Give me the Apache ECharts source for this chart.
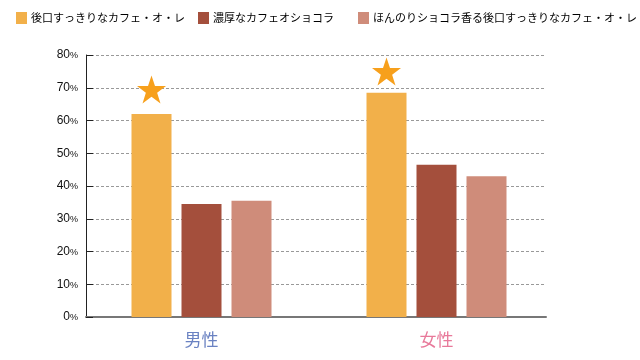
<!DOCTYPE html>
<html><head><meta charset="utf-8">
<script src="https://cdn.jsdelivr.net/npm/echarts@6/dist/echarts.min.js"></script>
<style>html,body{margin:0;padding:0;background:#fff}#c{width:640px;height:360px}</style>
</head><body><div id="c"></div>
<script>
var categories = ['男性', '女性'];
var seriesNames = ['後口すっきりなカフェ・オ・レ', '濃厚なカフェオショコラ', 'ほんのりショコラ香る後口すっきりなカフェ・オ・レ'];
var cafeAuLait = [62, 68.5];
var chocolat = [34.5, 46.5];
var chocoAuLait = [35.5, 43];
var starValues = [69.5, 75];
var yTicks = [0, 10, 20, 30, 40, 50, 60, 70, 80];

var colors = ['#F2B04A', '#A44F3C', '#CF8C7A'];
var catColors = ['#6A82C2', '#E8799A'];
var starPath = 'path://M50,0 L61.8,35.1 L98.9,35.1 L69,57 L80.3,92 L50,70.4 L19.7,92 L31,57 L1.1,35.1 L38.2,35.1 Z';
var cjk = '"Noto Sans CJK JP", sans-serif';

function legendAt(i, left) {
  return {
    data: [seriesNames[i]], left: left, top: 12, padding: 0,
    icon: 'rect', itemWidth: 11, itemHeight: 12, itemGap: 0,
    textStyle: { fontFamily: cjk, fontSize: 11, color: '#000', padding: [0, 0, 0, -1] }
  };
}

var chart = echarts.init(document.getElementById('c'));
chart.setOption({
  animation: false,
  color: colors,
  legend: [legendAt(0, 16), legendAt(1, 198), legendAt(2, 358)],
  grid: [
    { left: 84, right: 86, top: 55, bottom: 43 },
    { left: 86, right: 94, top: 55, bottom: 43 }
  ],
  xAxis: [
    {
      type: 'category', data: categories, gridIndex: 0,
      axisLine: { show: false }, axisTick: { show: false },
      axisLabel: {
        margin: 14, fontFamily: cjk, fontSize: 17,
        formatter: function (v, i) { return '{c' + i + '|' + v + '}'; },
        rich: { c0: { color: catColors[0], fontFamily: cjk, fontSize: 17 }, c1: { color: catColors[1], fontFamily: cjk, fontSize: 17 } }
      }
    },
    {
      type: 'category', data: [''], gridIndex: 1,
      axisLine: { show: true, lineStyle: { color: '#777', width: 2 } },
      axisTick: { show: false }, axisLabel: { show: false }
    }
  ],
  yAxis: [
    { type: 'value', gridIndex: 0, min: 0, max: 80, show: false },
    {
      type: 'value', gridIndex: 1, min: 0, max: 80, interval: 10,
      axisLine: { show: true, lineStyle: { color: '#222', width: 1 } },
      axisTick: { show: true, inside: true, length: 7, lineStyle: { color: '#222' } },
      splitLine: { show: true, lineStyle: { color: '#999', type: [3, 2], width: 1 } },
      axisLabel: {
        margin: 8, color: '#111',
        formatter: function (v) { return '{n|' + v + '}{p|%}'; },
        rich: {
          n: { fontFamily: 'Liberation Sans, Arial, sans-serif', fontSize: 12, color: '#111' },
          p: { fontFamily: 'Liberation Sans, Arial, sans-serif', fontSize: 9, color: '#111', padding: [2, 0, 0, 0] }
        }
      }
    }
  ],
  series: [
    {
      name: seriesNames[0], type: 'bar', data: cafeAuLait, barWidth: 40, barGap: '25%',
      xAxisIndex: 0, yAxisIndex: 0, z: 3,
      markPoint: {
        symbol: starPath, symbolSize: [29, 28], itemStyle: { color: '#F7A01C' }, label: { show: false },
        data: categories.map(function (c, i) { return { coord: [c, starValues[i]] }; })
      }
    },
    { name: seriesNames[1], type: 'bar', data: chocolat, barWidth: 40, barGap: '25%', xAxisIndex: 0, yAxisIndex: 0, z: 3 },
    { name: seriesNames[2], type: 'bar', data: chocoAuLait, barWidth: 40, barGap: '25%', xAxisIndex: 0, yAxisIndex: 0, z: 3 }
  ]
});
</script></body></html>
